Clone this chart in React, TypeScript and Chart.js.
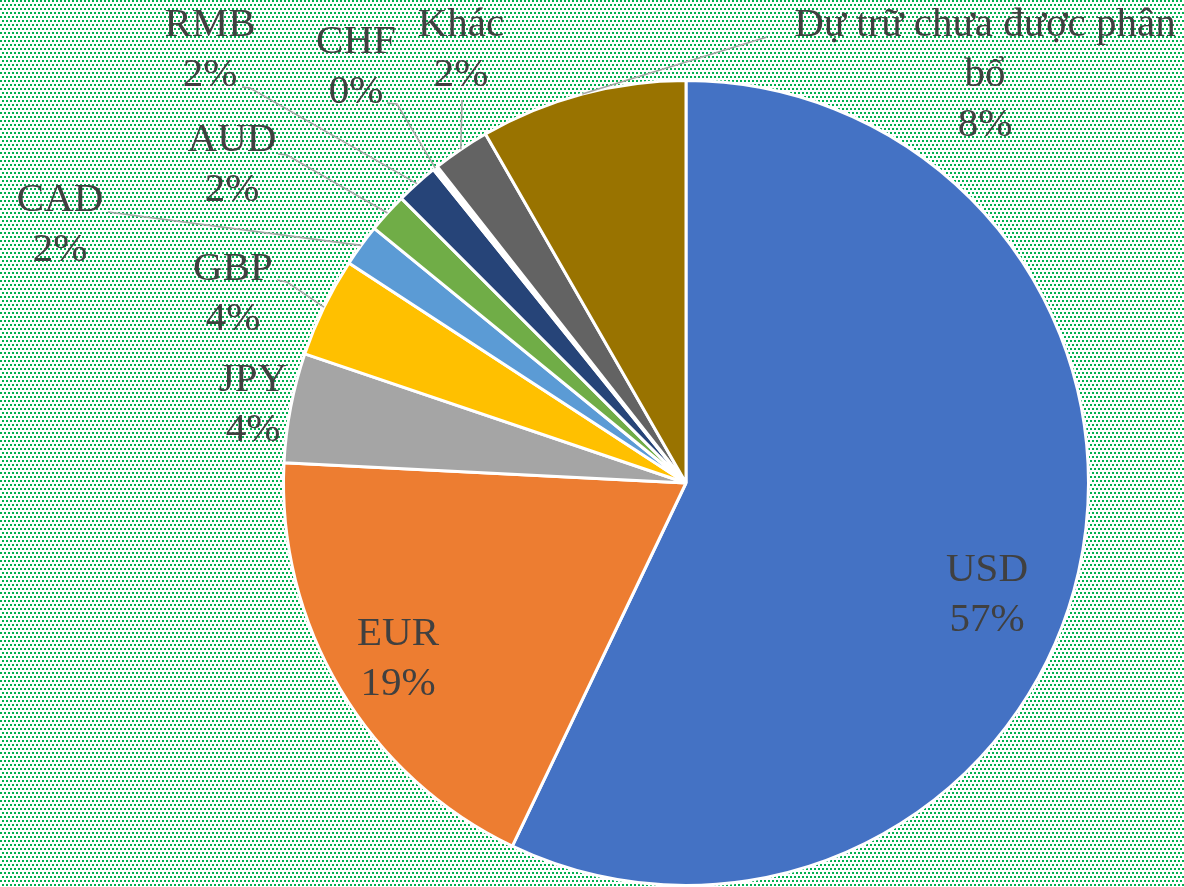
import React, { useEffect, useRef } from "react";
import { Chart, registerables } from "chart.js";

Chart.register(...registerables);

// ---- data ----
const categories = [
  "USD",
  "EUR",
  "JPY",
  "GBP",
  "CAD",
  "AUD",
  "RMB",
  "CHF",
  "Khác",
  "Dự trữ chưa được phân bổ",
];
const shares = [57.1, 18.7, 4.4, 4.0, 1.7, 1.6, 1.7, 0.2, 2.3, 8.3];
const sliceColors = [
  "#4472C4",
  "#ED7D31",
  "#A5A5A5",
  "#FFC000",
  "#5B9BD5",
  "#70AD47",
  "#264478",
  "#FFFFFF",
  "#636363",
  "#997300",
];

// ---- label layout (offsets from pie centre, px) ----
const labelOffsets: number[][] = [
  [301, 112],
  [-288, 176],
  [-433, -78],
  [-453, -189],
  [-626, -258],
  [-454, -318],
  [-476, -433],
  [-330, -416],
  [-225, -433],
  [299, -408],
];
const leaderStarts: (number[][] | null)[] = [
  null,
  null,
  null,
  [[-409, -203], [-399, -201]],
  [[-578, -271]],
  [[-408, -329], [-399, -328]],
  [[-444, -396], [-436, -395]],
  [[-299, -380], [-289, -379]],
  [[-224, -383]],
  [[81, -446]],
];

const FONT = "41px 'Liberation Serif', 'Times New Roman', serif";
const LINE_H = 50;
const WRAP_W = 410;

function makePattern(ctx: CanvasRenderingContext2D) {
  const c = document.createElement("canvas");
  c.width = 4;
  c.height = 8;
  const p = c.getContext("2d")!;
  p.fillStyle = "#ffffff";
  p.fillRect(0, 0, 4, 8);
  p.fillStyle = "#00B050";
  p.fillRect(0, 0, 2, 2);
  p.fillRect(2, 4, 2, 2);
  return ctx.createPattern(c, "repeat");
}

const backgroundPlugin = {
  id: "bgPattern",
  beforeDraw(chart: any) {
    const ctx = chart.ctx as CanvasRenderingContext2D;
    ctx.save();
    const pat = makePattern(ctx);
    if (pat) ctx.fillStyle = pat;
    ctx.fillRect(0, 0, chart.width, chart.height);
    ctx.restore();
  },
};

function wrapText(ctx: CanvasRenderingContext2D, text: string, maxW: number) {
  const words = text.split(" ");
  const lines: string[] = [];
  let cur = "";
  for (const w of words) {
    const test = cur ? cur + " " + w : w;
    if (ctx.measureText(test).width > maxW && cur) {
      lines.push(cur);
      cur = w;
    } else {
      cur = test;
    }
  }
  if (cur) lines.push(cur);
  return lines;
}

const labelPlugin = {
  id: "sliceLabels",
  afterDatasetsDraw(chart: any) {
    const ctx = chart.ctx as CanvasRenderingContext2D;
    const meta = chart.getDatasetMeta(0);
    const data: number[] = chart.data.datasets[0].data;
    const total = data.reduce((a, b) => a + b, 0);
    ctx.save();
    // leader lines
    ctx.strokeStyle = "#A6A6A6";
    ctx.lineWidth = 1.6;
    meta.data.forEach((arc: any, i: number) => {
      const ls = leaderStarts[i];
      if (!ls) return;
      const cx = arc.x;
      const cy = arc.y;
      const mid = (arc.startAngle + arc.endAngle) / 2;
      const ex = cx + Math.cos(mid) * arc.outerRadius;
      const ey = cy + Math.sin(mid) * arc.outerRadius;
      ctx.beginPath();
      ctx.moveTo(cx + ls[0][0], cy + ls[0][1]);
      for (let k = 1; k < ls.length; k++) ctx.lineTo(cx + ls[k][0], cy + ls[k][1]);
      ctx.lineTo(ex, ey);
      ctx.stroke();
    });
    // labels
    ctx.font = FONT;
    ctx.fillStyle = "#404040";
    ctx.textAlign = "center";
    ctx.textBaseline = "middle";
    meta.data.forEach((arc: any, i: number) => {
      const lines = wrapText(ctx, categories[i], WRAP_W);
      lines.push(Math.round((data[i] / total) * 100) + "%");
      const bx = arc.x + labelOffsets[i][0];
      const by = arc.y + labelOffsets[i][1];
      const top = by - ((lines.length - 1) * LINE_H) / 2;
      lines.forEach((ln, k) => ctx.fillText(ln, bx, top + k * LINE_H));
    });
    ctx.restore();
  },
};

export default function App() {
  const ref = useRef<HTMLCanvasElement | null>(null);
  useEffect(() => {
    if (!ref.current) return;
    const chart = new Chart(ref.current, {
      type: "pie",
      data: {
        labels: categories,
        datasets: [
          {
            data: shares,
            backgroundColor: sliceColors,
            borderColor: "#ffffff",
            borderWidth: 3,
          },
        ],
      },
      options: {
        responsive: false,
        animation: false,
        devicePixelRatio: 1,
        layout: { padding: { top: 79, bottom: 0, left: 282, right: 94 } },
        plugins: {
          legend: { display: false },
          tooltip: { enabled: false },
        },
      },
      plugins: [backgroundPlugin, labelPlugin],
    });
    return () => chart.destroy();
  }, []);
  return (
    <div style={{ position: "absolute", left: 0, top: 0, width: 1184, height: 887 }}>
      <canvas ref={ref} width={1184} height={887} style={{ display: "block" }} />
    </div>
  );
}
